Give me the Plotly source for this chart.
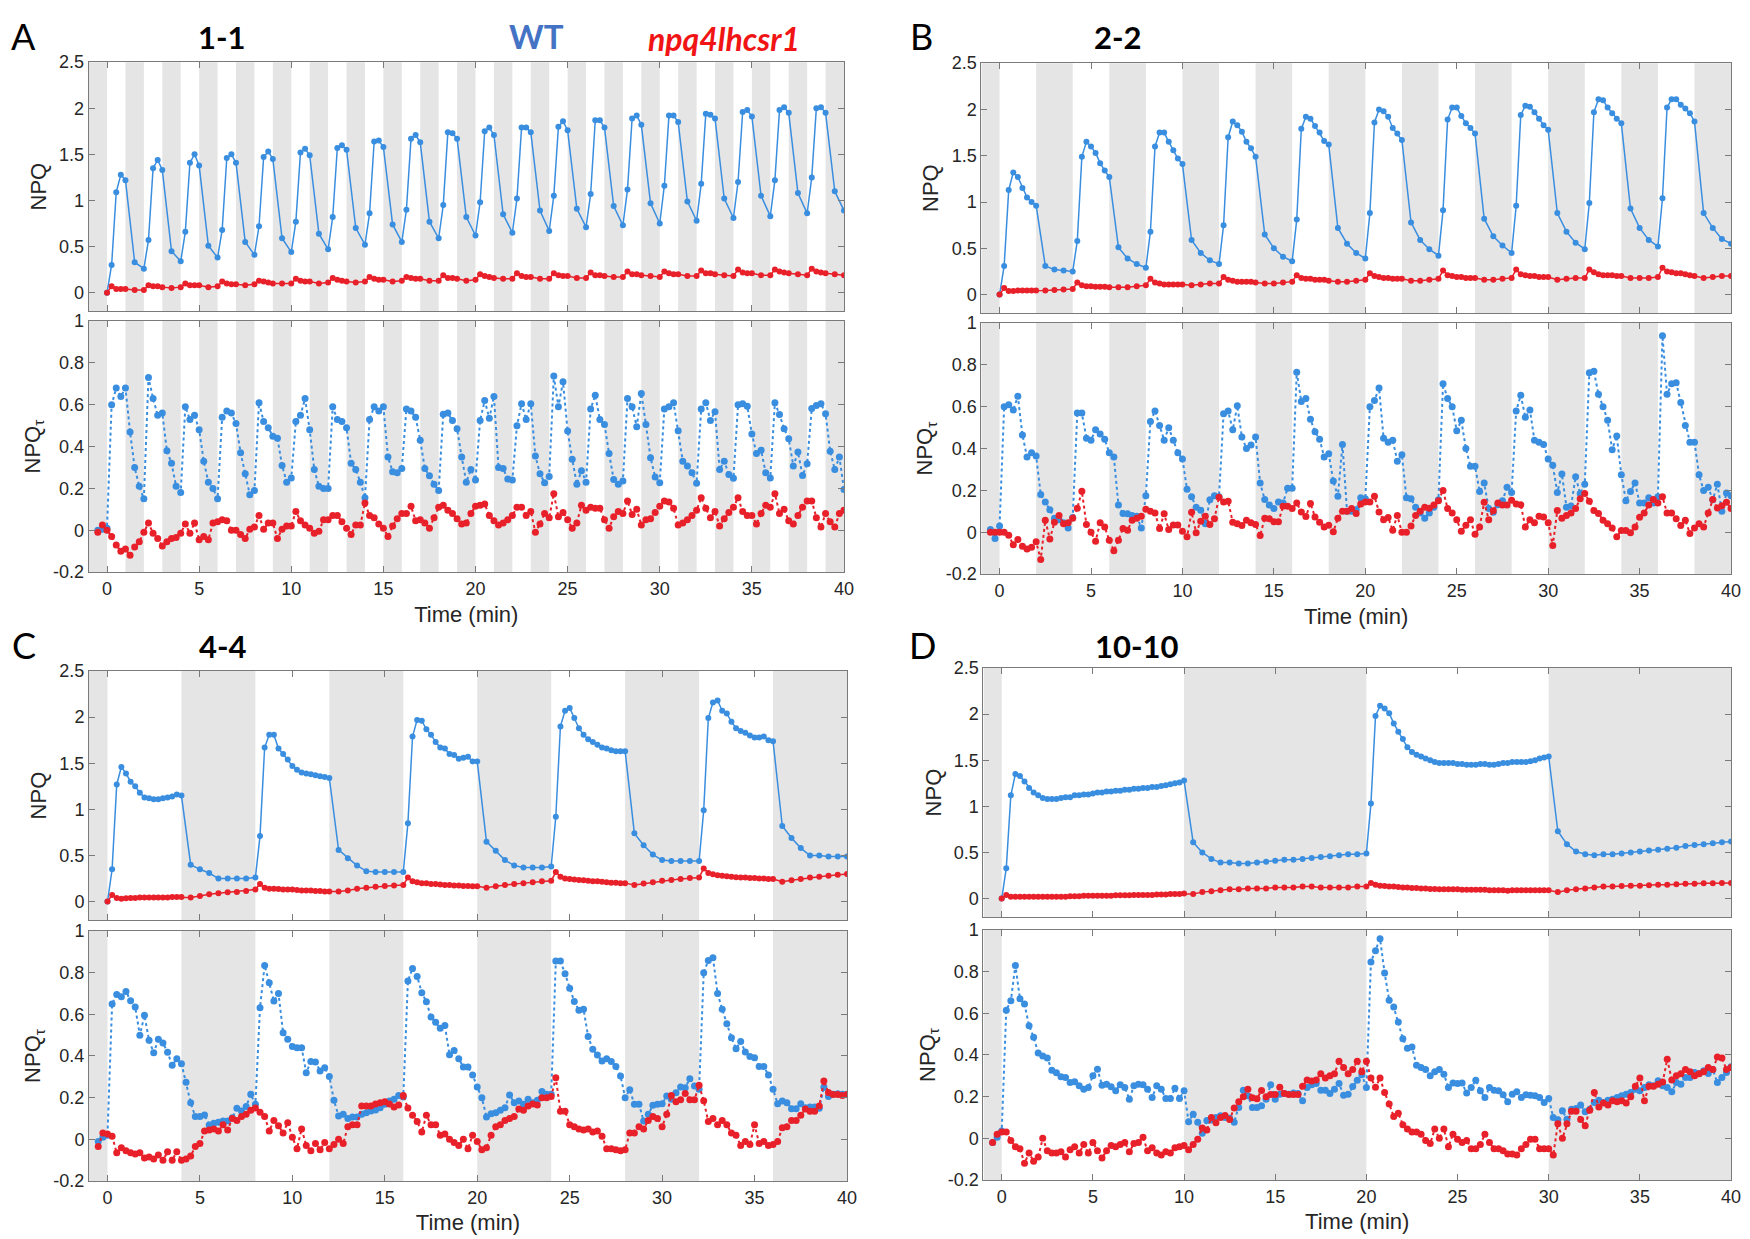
import plotly.graph_objects as go

# ---------------- protocol (light/dark half-period, minutes) ----------------
panel_letters = ["A", "B", "C", "D"]
panel_titles = ["1-1", "2-2", "4-4", "10-10"]
half_periods = [1, 2, 4, 10]
legend_wt = "WT"
legend_mut = "npq4lhcsr1"
xtick_vals = [0, 5, 10, 15, 20, 25, 30, 35, 40]
npq_ticks = [0, 0.5, 1, 1.5, 2, 2.5]
npq_ticktext = ["0", "0.5", "1", "1.5", "2", "2.5"]
tau_ticks = [-0.2, 0, 0.2, 0.4, 0.6, 0.8, 1]
tau_ticktext = ["-0.2", "0", "0.2", "0.4", "0.6", "0.8", "1"]

# ---------------- NPQ (saturating-pulse) values ----------------
# first value at t=0, then per cycle: light samples (every 0.25 min), dark samples (every 0.5 min)
A_npq_wt = [0.0,
    0.30, 1.09, 1.28, 1.22, 0.33, 0.26,
    0.57, 1.35, 1.44, 1.33, 0.45, 0.34,
    0.66, 1.41, 1.50, 1.38, 0.51, 0.38,
    0.68, 1.46, 1.50, 1.41, 0.55, 0.41,
    0.72, 1.47, 1.53, 1.45, 0.59, 0.44,
    0.77, 1.52, 1.56, 1.49, 0.64, 0.47,
    0.82, 1.57, 1.60, 1.55, 0.70, 0.52,
    0.86, 1.64, 1.65, 1.58, 0.74, 0.55,
    0.90, 1.67, 1.71, 1.63, 0.77, 0.59,
    0.95, 1.74, 1.73, 1.67, 0.82, 0.62,
    0.98, 1.75, 1.79, 1.71, 0.85, 0.65,
    1.02, 1.79, 1.79, 1.74, 0.89, 0.67,
    1.05, 1.80, 1.86, 1.76, 0.91, 0.71,
    1.07, 1.87, 1.87, 1.79, 0.94, 0.73,
    1.12, 1.89, 1.92, 1.82, 0.97, 0.75,
    1.16, 1.92, 1.92, 1.85, 0.99, 0.78,
    1.18, 1.94, 1.93, 1.89, 1.02, 0.81,
    1.20, 1.96, 1.98, 1.91, 1.05, 0.83,
    1.22, 1.98, 2.01, 1.95, 1.08, 0.86,
    1.25, 2.00, 2.01, 1.95, 1.10, 0.89]
A_npq_mut = [0.0,
    0.07, 0.04, 0.04, 0.04, 0.03, 0.03,
    0.08, 0.07, 0.07, 0.06, 0.05, 0.06,
    0.10, 0.08, 0.08, 0.08, 0.06, 0.07,
    0.12, 0.10, 0.09, 0.09, 0.08, 0.09,
    0.13, 0.12, 0.11, 0.10, 0.10, 0.10,
    0.15, 0.13, 0.12, 0.12, 0.10, 0.11,
    0.16, 0.14, 0.13, 0.12, 0.11, 0.12,
    0.17, 0.15, 0.14, 0.14, 0.12, 0.13,
    0.17, 0.16, 0.15, 0.15, 0.13, 0.13,
    0.19, 0.16, 0.16, 0.15, 0.13, 0.14,
    0.20, 0.18, 0.17, 0.16, 0.15, 0.15,
    0.21, 0.18, 0.17, 0.17, 0.15, 0.15,
    0.21, 0.19, 0.18, 0.18, 0.16, 0.16,
    0.22, 0.19, 0.19, 0.18, 0.17, 0.17,
    0.23, 0.20, 0.20, 0.19, 0.18, 0.17,
    0.23, 0.21, 0.20, 0.20, 0.18, 0.18,
    0.24, 0.21, 0.21, 0.20, 0.19, 0.18,
    0.25, 0.22, 0.21, 0.21, 0.19, 0.19,
    0.25, 0.23, 0.22, 0.21, 0.20, 0.19,
    0.26, 0.23, 0.22, 0.21, 0.20, 0.19]

B_npq_wt = [0.0,
    0.31, 1.13, 1.32, 1.27, 1.15, 1.05, 1.00, 0.96, 0.31, 0.27, 0.26, 0.25,
    0.58, 1.49, 1.65, 1.60, 1.53, 1.42, 1.34, 1.27, 0.51, 0.39, 0.33, 0.29,
    0.68, 1.60, 1.75, 1.75, 1.65, 1.56, 1.47, 1.41, 0.59, 0.45, 0.37, 0.33,
    0.75, 1.70, 1.87, 1.83, 1.76, 1.65, 1.58, 1.49, 0.65, 0.50, 0.41, 0.36,
    0.81, 1.79, 1.92, 1.90, 1.82, 1.75, 1.66, 1.62, 0.72, 0.55, 0.45, 0.39,
    0.88, 1.86, 2.00, 1.98, 1.92, 1.80, 1.74, 1.67, 0.78, 0.59, 0.49, 0.42,
    0.91, 1.89, 2.02, 2.02, 1.93, 1.85, 1.80, 1.74, 0.82, 0.63, 0.53, 0.45,
    0.96, 1.94, 2.04, 2.03, 1.97, 1.90, 1.83, 1.78, 0.88, 0.68, 0.56, 0.49,
    0.99, 1.97, 2.11, 2.10, 2.02, 1.96, 1.90, 1.85, 0.93, 0.72, 0.59, 0.52,
    1.04, 2.02, 2.11, 2.11, 2.05, 2.01, 1.96, 1.87, 0.88, 0.72, 0.60, 0.55]
B_npq_mut = [0.0,
    0.07, 0.04, 0.04, 0.045, 0.045, 0.045, 0.045, 0.045, 0.045, 0.05, 0.055, 0.06,
    0.13, 0.10, 0.09, 0.09, 0.085, 0.085, 0.085, 0.08, 0.08, 0.08, 0.09, 0.10,
    0.17, 0.13, 0.12, 0.11, 0.11, 0.11, 0.11, 0.11, 0.10, 0.11, 0.12, 0.12,
    0.19, 0.16, 0.15, 0.14, 0.14, 0.14, 0.14, 0.13, 0.12, 0.12, 0.13, 0.14,
    0.21, 0.18, 0.17, 0.17, 0.16, 0.16, 0.16, 0.15, 0.14, 0.14, 0.15, 0.16,
    0.23, 0.20, 0.19, 0.18, 0.18, 0.17, 0.17, 0.17, 0.15, 0.15, 0.16, 0.17,
    0.26, 0.21, 0.20, 0.19, 0.19, 0.18, 0.18, 0.18, 0.16, 0.16, 0.17, 0.18,
    0.27, 0.22, 0.21, 0.20, 0.20, 0.19, 0.19, 0.19, 0.16, 0.17, 0.18, 0.18,
    0.27, 0.24, 0.22, 0.21, 0.21, 0.21, 0.20, 0.20, 0.18, 0.18, 0.18, 0.19,
    0.29, 0.25, 0.24, 0.23, 0.23, 0.22, 0.21, 0.20, 0.18, 0.19, 0.20, 0.20]

C_npq_wt = [0.0,
    0.35, 1.27, 1.46, 1.39, 1.30, 1.25, 1.18, 1.13, 1.12, 1.11, 1.11, 1.12, 1.13, 1.14, 1.16, 1.15,
    0.40, 0.35, 0.31, 0.25, 0.25, 0.25, 0.25, 0.26,
    0.71, 1.67, 1.81, 1.81, 1.66, 1.60, 1.54, 1.47, 1.43, 1.40, 1.39, 1.38, 1.37, 1.36, 1.35, 1.34,
    0.56, 0.47, 0.39, 0.33, 0.32, 0.32, 0.32, 0.32,
    0.85, 1.79, 1.97, 1.96, 1.87, 1.81, 1.73, 1.67, 1.66, 1.60, 1.59, 1.55, 1.56, 1.57, 1.52, 1.52,
    0.65, 0.55, 0.45, 0.39, 0.37, 0.37, 0.37, 0.38,
    0.92, 1.90, 2.07, 2.10, 1.99, 1.88, 1.81, 1.76, 1.73, 1.70, 1.67, 1.66, 1.64, 1.63, 1.63, 1.63,
    0.74, 0.61, 0.51, 0.45, 0.44, 0.44, 0.44, 0.44,
    0.99, 1.99, 2.16, 2.18, 2.07, 2.04, 1.95, 1.88, 1.85, 1.83, 1.80, 1.78, 1.78, 1.79, 1.75, 1.74,
    0.82, 0.69, 0.58, 0.50, 0.50, 0.49, 0.49, 0.49]
C_npq_mut = [0.0,
    0.07, 0.04, 0.03, 0.035, 0.04, 0.04, 0.045, 0.045, 0.045, 0.045, 0.045, 0.045, 0.045, 0.05, 0.05, 0.05,
    0.045, 0.06, 0.08, 0.09, 0.10, 0.105, 0.115, 0.13,
    0.19, 0.15, 0.14, 0.14, 0.135, 0.13, 0.13, 0.13, 0.125, 0.12, 0.12, 0.12, 0.115, 0.115, 0.11, 0.11,
    0.11, 0.12, 0.14, 0.15, 0.16, 0.17, 0.175, 0.18,
    0.26, 0.22, 0.21, 0.20, 0.20, 0.19, 0.19, 0.185, 0.18, 0.18, 0.175, 0.175, 0.17, 0.17, 0.165, 0.165,
    0.15, 0.165, 0.18, 0.19, 0.20, 0.21, 0.22, 0.225,
    0.32, 0.27, 0.25, 0.245, 0.24, 0.235, 0.23, 0.225, 0.22, 0.22, 0.215, 0.21, 0.205, 0.205, 0.20, 0.20,
    0.18, 0.195, 0.21, 0.225, 0.235, 0.245, 0.255, 0.26,
    0.36, 0.31, 0.295, 0.285, 0.28, 0.275, 0.27, 0.265, 0.26, 0.26, 0.255, 0.255, 0.25, 0.25, 0.245, 0.245,
    0.215, 0.23, 0.245, 0.26, 0.27, 0.28, 0.29, 0.30]

D_npq_wt = [0.0,
    0.33, 1.12, 1.35, 1.33, 1.27, 1.20, 1.15, 1.12, 1.09, 1.08, 1.08, 1.08, 1.09, 1.10, 1.10, 1.12,
    1.12, 1.13, 1.13, 1.14, 1.15, 1.15, 1.16, 1.16, 1.17, 1.17, 1.18, 1.18, 1.19, 1.19, 1.20, 1.20,
    1.21, 1.21, 1.22, 1.23, 1.24, 1.25, 1.26, 1.28,
    0.61, 0.50, 0.43, 0.39, 0.39, 0.38, 0.38, 0.39, 0.40, 0.41, 0.42, 0.42, 0.43, 0.44, 0.45, 0.46,
    0.47, 0.48, 0.48, 0.49,
    1.03, 1.98, 2.09, 2.06, 2.01, 1.90, 1.81, 1.73, 1.64, 1.59, 1.56, 1.54, 1.52, 1.50, 1.48, 1.47,
    1.47, 1.47, 1.47, 1.46, 1.46, 1.45, 1.45, 1.45, 1.46, 1.46, 1.45, 1.45, 1.46, 1.47, 1.47, 1.48,
    1.48, 1.48, 1.48, 1.49, 1.50, 1.52, 1.53, 1.54,
    0.73, 0.59, 0.51, 0.48, 0.47, 0.48, 0.48, 0.49, 0.50, 0.51, 0.52, 0.53, 0.54, 0.55, 0.57, 0.58,
    0.59, 0.60, 0.61, 0.62]
D_npq_mut = [0.0,
    0.04, 0.02, 0.02, 0.02, 0.02, 0.02, 0.02, 0.02, 0.02, 0.02, 0.02, 0.02, 0.02, 0.02, 0.025, 0.025,
    0.025, 0.03, 0.03, 0.03, 0.03, 0.03, 0.03, 0.03, 0.035, 0.035, 0.035, 0.035, 0.04, 0.04, 0.04, 0.04,
    0.04, 0.045, 0.045, 0.045, 0.05, 0.05, 0.05, 0.055,
    0.05, 0.07, 0.08, 0.09, 0.10, 0.10, 0.11, 0.11, 0.11, 0.12, 0.12, 0.12, 0.13, 0.13, 0.12, 0.12,
    0.12, 0.12, 0.13, 0.13,
    0.17, 0.15, 0.14, 0.135, 0.13, 0.13, 0.125, 0.12, 0.12, 0.115, 0.115, 0.11, 0.11, 0.105, 0.105, 0.10,
    0.10, 0.10, 0.10, 0.10, 0.095, 0.095, 0.095, 0.095, 0.095, 0.095, 0.09, 0.09, 0.09, 0.09, 0.085, 0.09,
    0.09, 0.09, 0.09, 0.09, 0.09, 0.09, 0.09, 0.09,
    0.07, 0.09, 0.10, 0.11, 0.12, 0.13, 0.13, 0.135, 0.14, 0.14, 0.145, 0.15, 0.15, 0.155, 0.16, 0.16,
    0.165, 0.165, 0.17, 0.17]

# ---------------- NPQ_tau values, sampled every 0.25 min from t = -0.5 ----------------
A_tau_wt = [0.00, 0.005, 0.01,
    0.60, 0.68, 0.64, 0.68,  0.47, 0.30, 0.21, 0.15,  0.73, 0.63, 0.55, 0.56,  0.38, 0.32, 0.21, 0.18,
    0.59, 0.53, 0.55, 0.48,  0.33, 0.23, 0.20, 0.15,  0.54, 0.57, 0.56, 0.51,  0.37, 0.27, 0.17, 0.19,
    0.61, 0.52, 0.49, 0.45,  0.44, 0.31, 0.23, 0.25,  0.52, 0.55, 0.63, 0.48,  0.29, 0.21, 0.20, 0.20,
    0.59, 0.53, 0.52, 0.49,  0.32, 0.29, 0.23, 0.155, 0.53, 0.59, 0.57, 0.59,  0.35, 0.28, 0.275, 0.295,
    0.58, 0.57, 0.54, 0.43,  0.295, 0.26, 0.22, 0.19, 0.555, 0.56, 0.525, 0.485, 0.35, 0.23, 0.29, 0.24,
    0.525, 0.62, 0.535, 0.64, 0.30, 0.295, 0.245, 0.24, 0.50, 0.605, 0.53, 0.605, 0.355, 0.27, 0.227, 0.257,
    0.737, 0.59, 0.71, 0.474, 0.34, 0.22, 0.285, 0.23, 0.58, 0.645, 0.53, 0.505, 0.367, 0.243, 0.22, 0.235,
    0.63, 0.59, 0.495, 0.654, 0.505, 0.347, 0.255, 0.227, 0.58, 0.59, 0.61, 0.476, 0.33, 0.307, 0.275, 0.225,
    0.58, 0.61, 0.525, 0.567, 0.29, 0.33, 0.267, 0.248, 0.60, 0.605, 0.593, 0.46, 0.367, 0.383, 0.275, 0.25,
    0.61, 0.553, 0.485, 0.437, 0.307, 0.374, 0.262, 0.318, 0.582, 0.597, 0.605, 0.557, 0.378, 0.29, 0.35, 0.195]
A_tau_mut = [-0.01, 0.025, 0.0,
    -0.03, -0.07, -0.10, -0.09,  -0.12, -0.08, -0.055, -0.01,  0.035, -0.015, -0.04, -0.075,  -0.055, -0.04, -0.035, -0.015,
    0.03, -0.015, 0.035, -0.045,  -0.03, -0.045, 0.035, 0.04,  0.05, 0.045, 0.0, 0.0,  -0.02, -0.04, 0.005, 0.015,
    0.07, 0.005, 0.035, 0.035,  -0.04, 0.005, 0.02, 0.02,  0.09, 0.045, 0.025, 0.01,  -0.015, -0.005, 0.05, 0.05,
    0.07, 0.07, 0.04, 0.01,  -0.02, 0.025, 0.025, 0.13,  0.07, 0.06, 0.03, 0.01,  -0.03, 0.02, 0.055, 0.08,
    0.08, 0.115, 0.045, 0.05,  0.035, 0.01, 0.06, 0.11,  0.12, 0.095, 0.08, 0.055,  0.03, 0.035, 0.08, 0.115,
    0.12, 0.125, 0.07, 0.045,  0.025, 0.035, 0.05, 0.07,  0.11, 0.11, 0.07, 0.09,  -0.01, 0.03, 0.08, 0.06,
    0.175, 0.065, 0.085, 0.05,  0.01, 0.035, 0.12, 0.095,  0.11, 0.105, 0.105, 0.05,  0.01, 0.065, 0.09, 0.08,
    0.14, 0.075, 0.10, 0.025,  0.05, 0.055, 0.085, 0.115,  0.14, 0.135, 0.105, 0.025,  0.035, 0.05, 0.07, 0.095,
    0.155, 0.105, 0.06, 0.09,  0.02, 0.055, 0.085, 0.11,  0.155, 0.09, 0.07, 0.07,  0.03, 0.08, 0.12, 0.11,
    0.175, 0.08, 0.10, 0.045,  0.03, 0.07, 0.11, 0.14,  0.14, 0.06, 0.015, 0.08,  0.04, 0.015, 0.08, 0.095]

B_tau_wt = [0.013, -0.03, 0.03,
    0.60, 0.61, 0.585, 0.65,  0.465, 0.36, 0.38, 0.365,  0.18, 0.145, 0.107, 0.067,  0.06, 0.045, 0.02, 0.07,
    0.57, 0.57, 0.45, 0.44,  0.49, 0.47, 0.445, 0.38,  0.36, 0.13, 0.09, 0.088,  0.08, 0.077, 0.02, 0.175,
    0.53, 0.58, 0.51, 0.44,  0.50, 0.44, 0.38, 0.35,  0.205, 0.17, 0.12, 0.105,  0.04, 0.155, 0.175, 0.17,
    0.567, 0.58, 0.49, 0.605,  0.455, 0.40, 0.417, 0.455,  0.235, 0.156, 0.13, 0.113,  0.145, 0.14, 0.21, 0.21,
    0.765, 0.625, 0.64, 0.54,  0.48, 0.445, 0.36, 0.375,  0.245, 0.172, 0.42, 0.10,  0.10, 0.108, 0.165, 0.16,
    0.60, 0.63, 0.69, 0.45,  0.43, 0.44, 0.34, 0.37,  0.165, 0.16, 0.12, 0.092,  0.067, 0.092, 0.12, 0.155,
    0.71, 0.64, 0.60, 0.485,  0.535, 0.40, 0.315, 0.315,  0.195, 0.235, 0.113, 0.096,  0.132, 0.15, 0.215, 0.19,
    0.58, 0.655, 0.55, 0.585,  0.44, 0.43, 0.42, 0.35,  0.32, 0.19, 0.278, 0.12,  0.125, 0.265, 0.185, 0.23,
    0.763, 0.77, 0.66, 0.60,  0.535, 0.395, 0.46, 0.275,  0.15, 0.195, 0.235, 0.14,  0.14, 0.165, 0.14, 0.17,
    0.94, 0.66, 0.71, 0.715,  0.62, 0.51, 0.43, 0.43,  0.275, 0.20, 0.215, 0.155,  0.23, 0.10, 0.188, 0.175]
B_tau_mut = [0.0, 0.0, 0.0,
    0.0, -0.015, -0.06, -0.035,  -0.067, -0.08, -0.072, -0.046,  -0.13, 0.057, -0.032, 0.048,  0.08, 0.04, 0.045, 0.067,
    0.115, 0.196, 0.037, 0.0,  -0.043, 0.045, 0.025, -0.038,  -0.088, -0.038, 0.018, 0.01,  0.057, 0.067, 0.077, 0.11,
    0.10, 0.092, 0.018, 0.088,  0.013, 0.035, 0.035, 0.005,  -0.022, 0.096, -0.003, 0.053,  0.077, 0.037, 0.065, 0.167,
    0.145, 0.148, 0.048, 0.041,  0.032, 0.057, 0.045, 0.037,  -0.016, 0.067, 0.064, 0.05,  0.05, 0.124, 0.124, 0.113,
    0.14, 0.097, 0.075, 0.137,  0.073, 0.048, 0.025, 0.033,  0.002, 0.067, 0.10, 0.10,  0.113, 0.09, 0.135, 0.145,
    0.145, 0.172, 0.097, 0.06,  0.07, 0.01, 0.08, 0.0,  0.0, 0.03, 0.08, 0.10,  0.12, 0.115, 0.13, 0.15,
    0.20, 0.113, 0.092, 0.06,  0.005, 0.033, 0.06, -0.01,  0.025, 0.143, 0.06, 0.103,  0.14, 0.13, 0.13, 0.153,
    0.135, 0.132, 0.025, 0.06,  0.045, 0.077, 0.073, 0.045,  -0.064, 0.104, 0.067, 0.08,  0.092, 0.113, 0.16, 0.185,
    0.148, 0.104, 0.09, 0.057,  0.041, 0.02, -0.022, 0.008,  0.008, -0.003, 0.025, 0.072,  0.092, 0.13, 0.156, 0.14,
    0.17, 0.092, 0.092, 0.064,  0.032, 0.057, -0.006, 0.02,  0.041, 0.025, 0.092, 0.156,  0.116, 0.127, 0.143, 0.113]

C_tau_wt = [-0.01, 0.01, 0.02,
    0.65, 0.695, 0.685, 0.71,  0.665, 0.635, 0.50, 0.595,  0.475, 0.415, 0.48, 0.462,  0.418, 0.355, 0.387, 0.363,
    0.274, 0.176, 0.109, 0.109,  0.117, 0.069, 0.077, 0.082,  0.088, 0.088, 0.104, 0.149,  0.136, 0.157, 0.216, 0.168,
    0.632, 0.835, 0.752, 0.664,  0.70, 0.512, 0.48, 0.446,  0.44, 0.44, 0.32, 0.373,  0.371, 0.328, 0.344, 0.302,
    0.187, 0.112, 0.12, 0.10,  0.107, 0.107, 0.12, 0.128,  0.136, 0.141, 0.152, 0.168,  0.184, 0.192, 0.21, 0.203,
    0.76, 0.82, 0.782, 0.704,  0.66, 0.587, 0.562, 0.533,  0.546, 0.406, 0.426, 0.387,  0.347, 0.347, 0.309, 0.251,
    0.20, 0.107, 0.123, 0.128,  0.139, 0.152, 0.213, 0.176,  0.184, 0.168, 0.192, 0.176,  0.187, 0.229, 0.216, 0.216,
    0.856, 0.856, 0.795, 0.725,  0.661, 0.619, 0.624, 0.493,  0.432, 0.405, 0.376, 0.387,  0.373, 0.349, 0.304, 0.20,
    0.238, 0.168, 0.168, 0.088,  0.12, 0.163, 0.168, 0.171,  0.208, 0.192, 0.224, 0.251,  0.248, 0.291, 0.256, 0.24,
    0.80, 0.859, 0.872, 0.70,  0.624, 0.555, 0.488, 0.435,  0.469, 0.419, 0.397, 0.392,  0.349, 0.349, 0.309, 0.24,
    0.171, 0.184, 0.176, 0.147,  0.147, 0.171, 0.152, 0.155,  0.155, 0.149, 0.251, 0.205,  0.216, 0.219, 0.216, 0.216]
C_tau_mut = [-0.035, 0.03, 0.025,
    0.015, -0.065, -0.04, -0.055,  -0.065, -0.07, -0.065, -0.09,  -0.085, -0.095, -0.075, -0.10,  -0.06, -0.10, -0.06, -0.10,
    -0.095, -0.08, -0.035, -0.02,  0.04, 0.045, 0.05, 0.04,  0.07, 0.045, 0.10, 0.09,  0.11, 0.12, 0.14, 0.15,
    0.13, 0.11, 0.04, 0.09,  0.065, 0.03, 0.08, 0.01,  -0.045, 0.05, -0.03, -0.055,  -0.02, -0.05, -0.015, -0.045,
    -0.025, 0.0, -0.02, 0.06,  0.07, 0.07, 0.16, 0.16,  0.16, 0.17, 0.175, 0.18,  0.17, 0.155, 0.165, 0.21,
    0.15, 0.115, 0.085, 0.035,  0.115, 0.07, 0.07, 0.02,  0.025, 0.0, -0.015, -0.03,  0.0, -0.045, 0.02, -0.01,
    -0.05, -0.04, 0.02, 0.06,  0.07, 0.09, 0.10, 0.11,  0.145, 0.14, 0.16, 0.17,  0.165, 0.20, 0.20, 0.205,
    0.295, 0.135, 0.135, 0.07,  0.06, 0.05, 0.045, 0.05,  0.035, 0.04, 0.015, -0.045,  -0.045, -0.05, -0.055, -0.05,
    0.03, 0.03, 0.06, 0.05,  0.09, 0.11, 0.10, 0.06,  0.12, 0.21, 0.18, 0.19,  0.22, 0.19, 0.19, 0.26,
    0.185, 0.085, 0.10, 0.07,  0.09, 0.07, 0.03, 0.02,  -0.03, -0.01, -0.025, 0.07,  -0.02, -0.01, -0.03, -0.025,
    -0.01, 0.055, 0.06, 0.09,  0.09, 0.115, 0.145, 0.135,  0.135, 0.16, 0.28, 0.225,  0.215, 0.215, 0.21, 0.215]

D_tau_wt = [-0.02, 0.005, 0.035,
    0.615, 0.66, 0.83, 0.67,  0.645, 0.54, 0.485, 0.41,  0.395, 0.385, 0.327, 0.315,  0.295, 0.292, 0.268, 0.271,
    0.252, 0.236, 0.244, 0.30,  0.332, 0.255, 0.26, 0.247,  0.228, 0.257, 0.244, 0.188,  0.252, 0.26, 0.257, 0.236,
    0.196, 0.252, 0.236, 0.191,  0.191, 0.24, 0.191, 0.228,  0.08, 0.116, 0.077, 0.024,  0.085, 0.088, 0.10, 0.108,
    0.10, 0.096, 0.077, 0.148,  0.231, 0.204, 0.148, 0.148,  0.156, 0.188, 0.257, 0.188,  0.212, 0.215, 0.212, 0.217,
    0.215, 0.18, 0.244, 0.257,  0.263, 0.231, 0.231, 0.215,  0.236, 0.263, 0.207, 0.212,  0.249, 0.279, 0.305, 0.244,
    0.847, 0.90, 0.958, 0.794,  0.663, 0.63, 0.558, 0.478,  0.432, 0.438, 0.351, 0.34,  0.33, 0.30, 0.32, 0.33,
    0.308, 0.244, 0.265, 0.263,  0.265, 0.217, 0.244, 0.279,  0.228, 0.196, 0.244, 0.231,  0.228, 0.209, 0.175, 0.212,
    0.223, 0.196, 0.209, 0.207,  0.204, 0.196, 0.172, 0.191,  0.10, 0.089, 0.132, 0.092,  0.14, 0.143, 0.16, 0.128,
    0.14, 0.172, 0.183, 0.172,  0.183, 0.188, 0.196, 0.204,  0.212, 0.22, 0.236, 0.228,  0.244, 0.257, 0.252, 0.276,
    0.252, 0.244, 0.223, 0.268,  0.26, 0.292, 0.292, 0.316,  0.311, 0.324, 0.311, 0.329,  0.268, 0.292, 0.316, 0.343]
D_tau_mut = [-0.02, 0.02, 0.03,
    0.03, -0.01, -0.04, -0.05,  -0.12, -0.07, -0.11, -0.09,  0.0, -0.06, -0.07, -0.07,  -0.065, -0.09, -0.055, -0.04,
    -0.07, -0.03, -0.07, -0.02,  -0.06, -0.095, -0.06, -0.035,  -0.04, -0.03, -0.02, -0.065,  -0.025, -0.02, 0.005, -0.06,
    -0.045, -0.07, -0.08, -0.065,  -0.07, -0.045, -0.04, -0.035,  -0.055, -0.03, -0.005, 0.05,  0.04, 0.10, 0.075, 0.10,
    0.11, 0.09, 0.145, 0.175,  0.20, 0.235, 0.195, 0.19,  0.23, 0.20, 0.21, 0.21,  0.245, 0.215, 0.21, 0.21,
    0.21, 0.25, 0.28, 0.275,  0.28, 0.31, 0.29, 0.30,  0.31, 0.37, 0.34, 0.31,  0.33, 0.37, 0.32, 0.37,
    0.29, 0.245, 0.29, 0.22,  0.165, 0.105, 0.12, 0.065,  0.045, 0.03, 0.03, 0.02,  -0.01, -0.025, 0.045, 0.0,
    0.045, -0.04, 0.02, -0.005,  -0.02, -0.01, -0.05, -0.05,  -0.03, 0.02, -0.02, -0.05,  -0.05, -0.06, -0.075, -0.075,
    -0.08, -0.05, -0.03, -0.005,  -0.005, -0.05, -0.05, -0.05,  -0.08, 0.07, 0.0, 0.07,  0.13, 0.13, 0.09, 0.06,
    0.135, 0.22, 0.15, 0.17,  0.16, 0.18, 0.175, 0.18,  0.17, 0.20, 0.25, 0.29,  0.18, 0.25, 0.25, 0.26,
    0.27, 0.38, 0.28, 0.30,  0.31, 0.33, 0.32, 0.30,  0.31, 0.32, 0.34, 0.33,  0.39, 0.385, 0.33, 0.34]

npq_wt = [A_npq_wt, B_npq_wt, C_npq_wt, D_npq_wt]
npq_mut = [A_npq_mut, B_npq_mut, C_npq_mut, D_npq_mut]
tau_wt = [A_tau_wt, B_tau_wt, C_tau_wt, D_tau_wt]
tau_mut = [A_tau_mut, B_tau_mut, C_tau_mut, D_tau_mut]

# ---------------- sampling times (from the light/dark protocol) ----------------
def npq_times(L, n):
    t = [0.0]
    c = 0
    while len(t) < n:
        s = 2 * L * c
        t += [s + 0.25 * (i + 1) for i in range(4 * L)]
        t += [s + L + 0.5 * (j + 1) for j in range(2 * L)]
        c += 1
    return t[:n]

def tau_times(n):
    return [-0.5 + 0.25 * i for i in range(n)]

# ---------------- layout geometry (target pixels in the photographed page) ----------------
W, H = 1750, 1239
V_SCALE, V_OFF = 0.984, 9.0    # compensation for the vertical squeeze seen in the page photo
H_SCALE, X_MAX = 0.9943, 1741  # compensation for the slight horizontal squeeze
x_dom = [(88.6, 844.0), (981.3, 1737.0), (89.0, 847.0), (983.5, 1739.0)]
y_top = [(61, 310), (62, 312), (670, 919), (667, 916)]
y_bot = [(320, 571), (322, 573), (930, 1180), (929, 1179)]

BLUE = "#3a8ee0"
RED = "#e8202a"
AXC = "#7a7a7a"
TXT = "#262626"
SANS = "Liberation Sans, Arial, sans-serif"
TICKFONT = dict(family=SANS, size=18, color=TXT)
TITLEFONT = dict(family=SANS, size=22, color=TXT)

fig = go.Figure()
layout = dict(width=W, height=H, margin=dict(l=0, r=0, t=0, b=0), autosize=False,
              paper_bgcolor="white", plot_bgcolor="white", showlegend=False)
shapes = []
annotations = []

def px(x):
    return min(x / H_SCALE, X_MAX) / W

def py(y):
    yy = y / V_SCALE - V_OFF
    return min(max(1 - yy / H, 0.0), 1.0)

for p in range(4):
    L = half_periods[p]
    for r in range(2):
        k = 2 * p + r + 1
        xa = "x" if k == 1 else f"x{k}"
        ya = "y" if k == 1 else f"y{k}"
        xkey = "xaxis" if k == 1 else f"xaxis{k}"
        ykey = "yaxis" if k == 1 else f"yaxis{k}"
        yd = y_top[p] if r == 0 else y_bot[p]
        layout[xkey] = dict(domain=[px(x_dom[p][0]), px(x_dom[p][1])], anchor=ya,
                            range=[-1, 40], tickvals=xtick_vals, ticks="inside", ticklen=6,
                            tickcolor=AXC, showline=True, linecolor=AXC, linewidth=1,
                            mirror="ticks", showgrid=False, zeroline=False,
                            showticklabels=(r == 1), tickfont=TICKFONT)
        if r == 1:
            layout[xkey]["title"] = dict(text="Time (min)", font=TITLEFONT, standoff=8)
        if r == 0:
            layout[ykey] = dict(domain=[py(yd[1]), py(yd[0])], anchor=xa, range=[-0.2, 2.5],
                                tickvals=npq_ticks, ticktext=npq_ticktext,
                                title=dict(text="NPQ", font=TITLEFONT, standoff=6))
        else:
            layout[ykey] = dict(domain=[py(yd[1]), py(yd[0])], anchor=xa, range=[-0.2, 1.0],
                                tickvals=tau_ticks, ticktext=tau_ticktext,
                                title=dict(text="NPQ<sub>τ</sub>", font=TITLEFONT, standoff=6))
        layout[ykey].update(ticks="inside", ticklen=6, tickcolor=AXC, showline=True, linecolor=AXC,
                            linewidth=1, mirror="ticks", showgrid=False, zeroline=False,
                            tickfont=TICKFONT)
        # dark-period shading
        bands = [(-1, 0)]
        c = 0
        while L * (2 * c + 1) < 40:
            bands.append((L * (2 * c + 1), min(L * (2 * c + 2), 40)))
            c += 1
        for b0, b1 in bands:
            shapes.append(dict(type="rect", xref=xa, yref=f"{ya} domain", x0=b0, x1=b1, y0=0, y1=1,
                               fillcolor="#e5e5e5", line=dict(width=0), layer="below"))
        if r == 0:
            tw = npq_times(L, len(npq_wt[p]))
            tm = npq_times(L, len(npq_mut[p]))
            fig.add_trace(go.Scatter(x=tw, y=npq_wt[p], xaxis=xa, yaxis=ya, mode="lines+markers",
                                     line=dict(color=BLUE, width=1.5),
                                     marker=dict(color=BLUE, size=6)))
            fig.add_trace(go.Scatter(x=tm, y=npq_mut[p], xaxis=xa, yaxis=ya, mode="lines+markers",
                                     line=dict(color=RED, width=1.5),
                                     marker=dict(color=RED, size=6)))
        else:
            tw = tau_times(len(tau_wt[p]))
            tm = tau_times(len(tau_mut[p]))
            fig.add_trace(go.Scatter(x=tw, y=tau_wt[p], xaxis=xa, yaxis=ya, mode="lines+markers",
                                     line=dict(color=BLUE, width=2, dash="dot"),
                                     marker=dict(color=BLUE, size=7)))
            fig.add_trace(go.Scatter(x=tm, y=tau_mut[p], xaxis=xa, yaxis=ya, mode="lines+markers",
                                     line=dict(color=RED, width=2, dash="dot"),
                                     marker=dict(color=RED, size=7)))

def ann(text, x, y, size, color="black", family="Lato, sans-serif"):
    annotations.append(dict(text=text, x=px(x), y=py(y), xref="paper", yref="paper",
                            xanchor="center", yanchor="middle", showarrow=False,
                            font=dict(family=family, size=size, color=color)))

letter_pos = [(24, 35), (922, 35), (24, 644), (923, 644)]
title_pos = [(222, 36), (1118, 36), (223, 645), (1137, 645)]
for p in range(4):
    ann(panel_letters[p], *letter_pos[p], 36)
    ann("<b>" + panel_titles[p] + "</b>", *title_pos[p], 31)

ann("<b>" + legend_wt + "</b>", 537, 35, 33, "#4472c4")
ann("<b><i>" + legend_mut + "</i></b>", 724, 37, 32, "#f01414")

layout["shapes"] = shapes
layout["annotations"] = annotations
fig.update_layout(**layout)
fig.write_html("out.html", config={"displayModeBar": False},
               post_script="document.body.style.margin='0';document.body.style.overflow='hidden';")
